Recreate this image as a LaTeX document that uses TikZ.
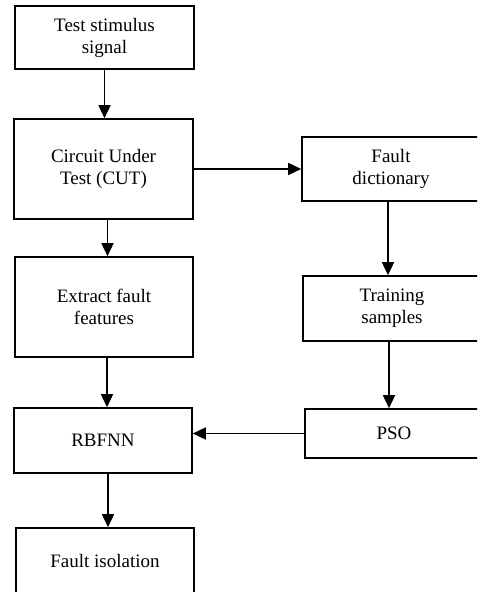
\documentclass[tikz,border=0pt]{standalone}
\usepackage{fontspec}
\setmainfont{Liberation Serif}
\usetikzlibrary{arrows.meta}
\begin{document}
\begin{tikzpicture}[x=1pt,y=-1pt,
  box/.style={draw=black,line width=1.6pt,rectangle,inner sep=0pt,align=center,
    font=\fontsize{19}{22}\selectfont},
  arr/.style={line width=1.6pt,-{Triangle[width=12pt,length=13pt]}}]
\useasboundingbox (0,0) rectangle (477,592);
\clip (0,0) rectangle (477,592);
\node[box,minimum width=179pt,minimum height=63pt] (b1) at (104.5,37.5) {Test stimulus\\signal};
\node[box,minimum width=179pt,minimum height=100pt] (b2) at (103.5,169) {Circuit Under\\Test (CUT)};
\node[box,minimum width=178pt,minimum height=100pt] (b3) at (104,307) {Extract fault\\features};
\node[box,minimum width=178pt,minimum height=65pt] (b4) at (103,440.5) {RBFNN};
\node[box,minimum width=178pt,minimum height=66pt] (b5) at (105,561) {Fault isolation};
\node[box,minimum width=178pt,minimum height=64pt] (fd) at (391,169) {Fault\\dictionary};
\node[box,minimum width=178pt,minimum height=65pt] (ts) at (392,308.5) {Training\\samples};
\node[box,minimum width=178pt,minimum height=49pt] (pso) at (394,433.5) {PSO};
\draw[arr] (b1.south) -- (b1.south |- b2.north);
\draw[arr] ([xshift=4pt]b2.south) -- ([xshift=4pt]b2.south |- b3.north);
\draw[arr] ([xshift=3pt]b3.south) -- ([xshift=3pt]b3.south |- b4.north);
\draw[arr] ([xshift=5pt]b4.south) -- ([xshift=5pt]b4.south |- b5.north);
\draw[arr] (b2.east) -- (b2.east -| fd.west);
\draw[arr] ([xshift=-3pt]fd.south) -- ([xshift=-3pt]fd.south |- ts.north);
\draw[arr] ([xshift=-3pt]ts.south) -- ([xshift=-3pt]ts.south |- pso.north);
\draw[arr] (pso.west) -- (pso.west -| b4.east);
\end{tikzpicture}
\end{document}
